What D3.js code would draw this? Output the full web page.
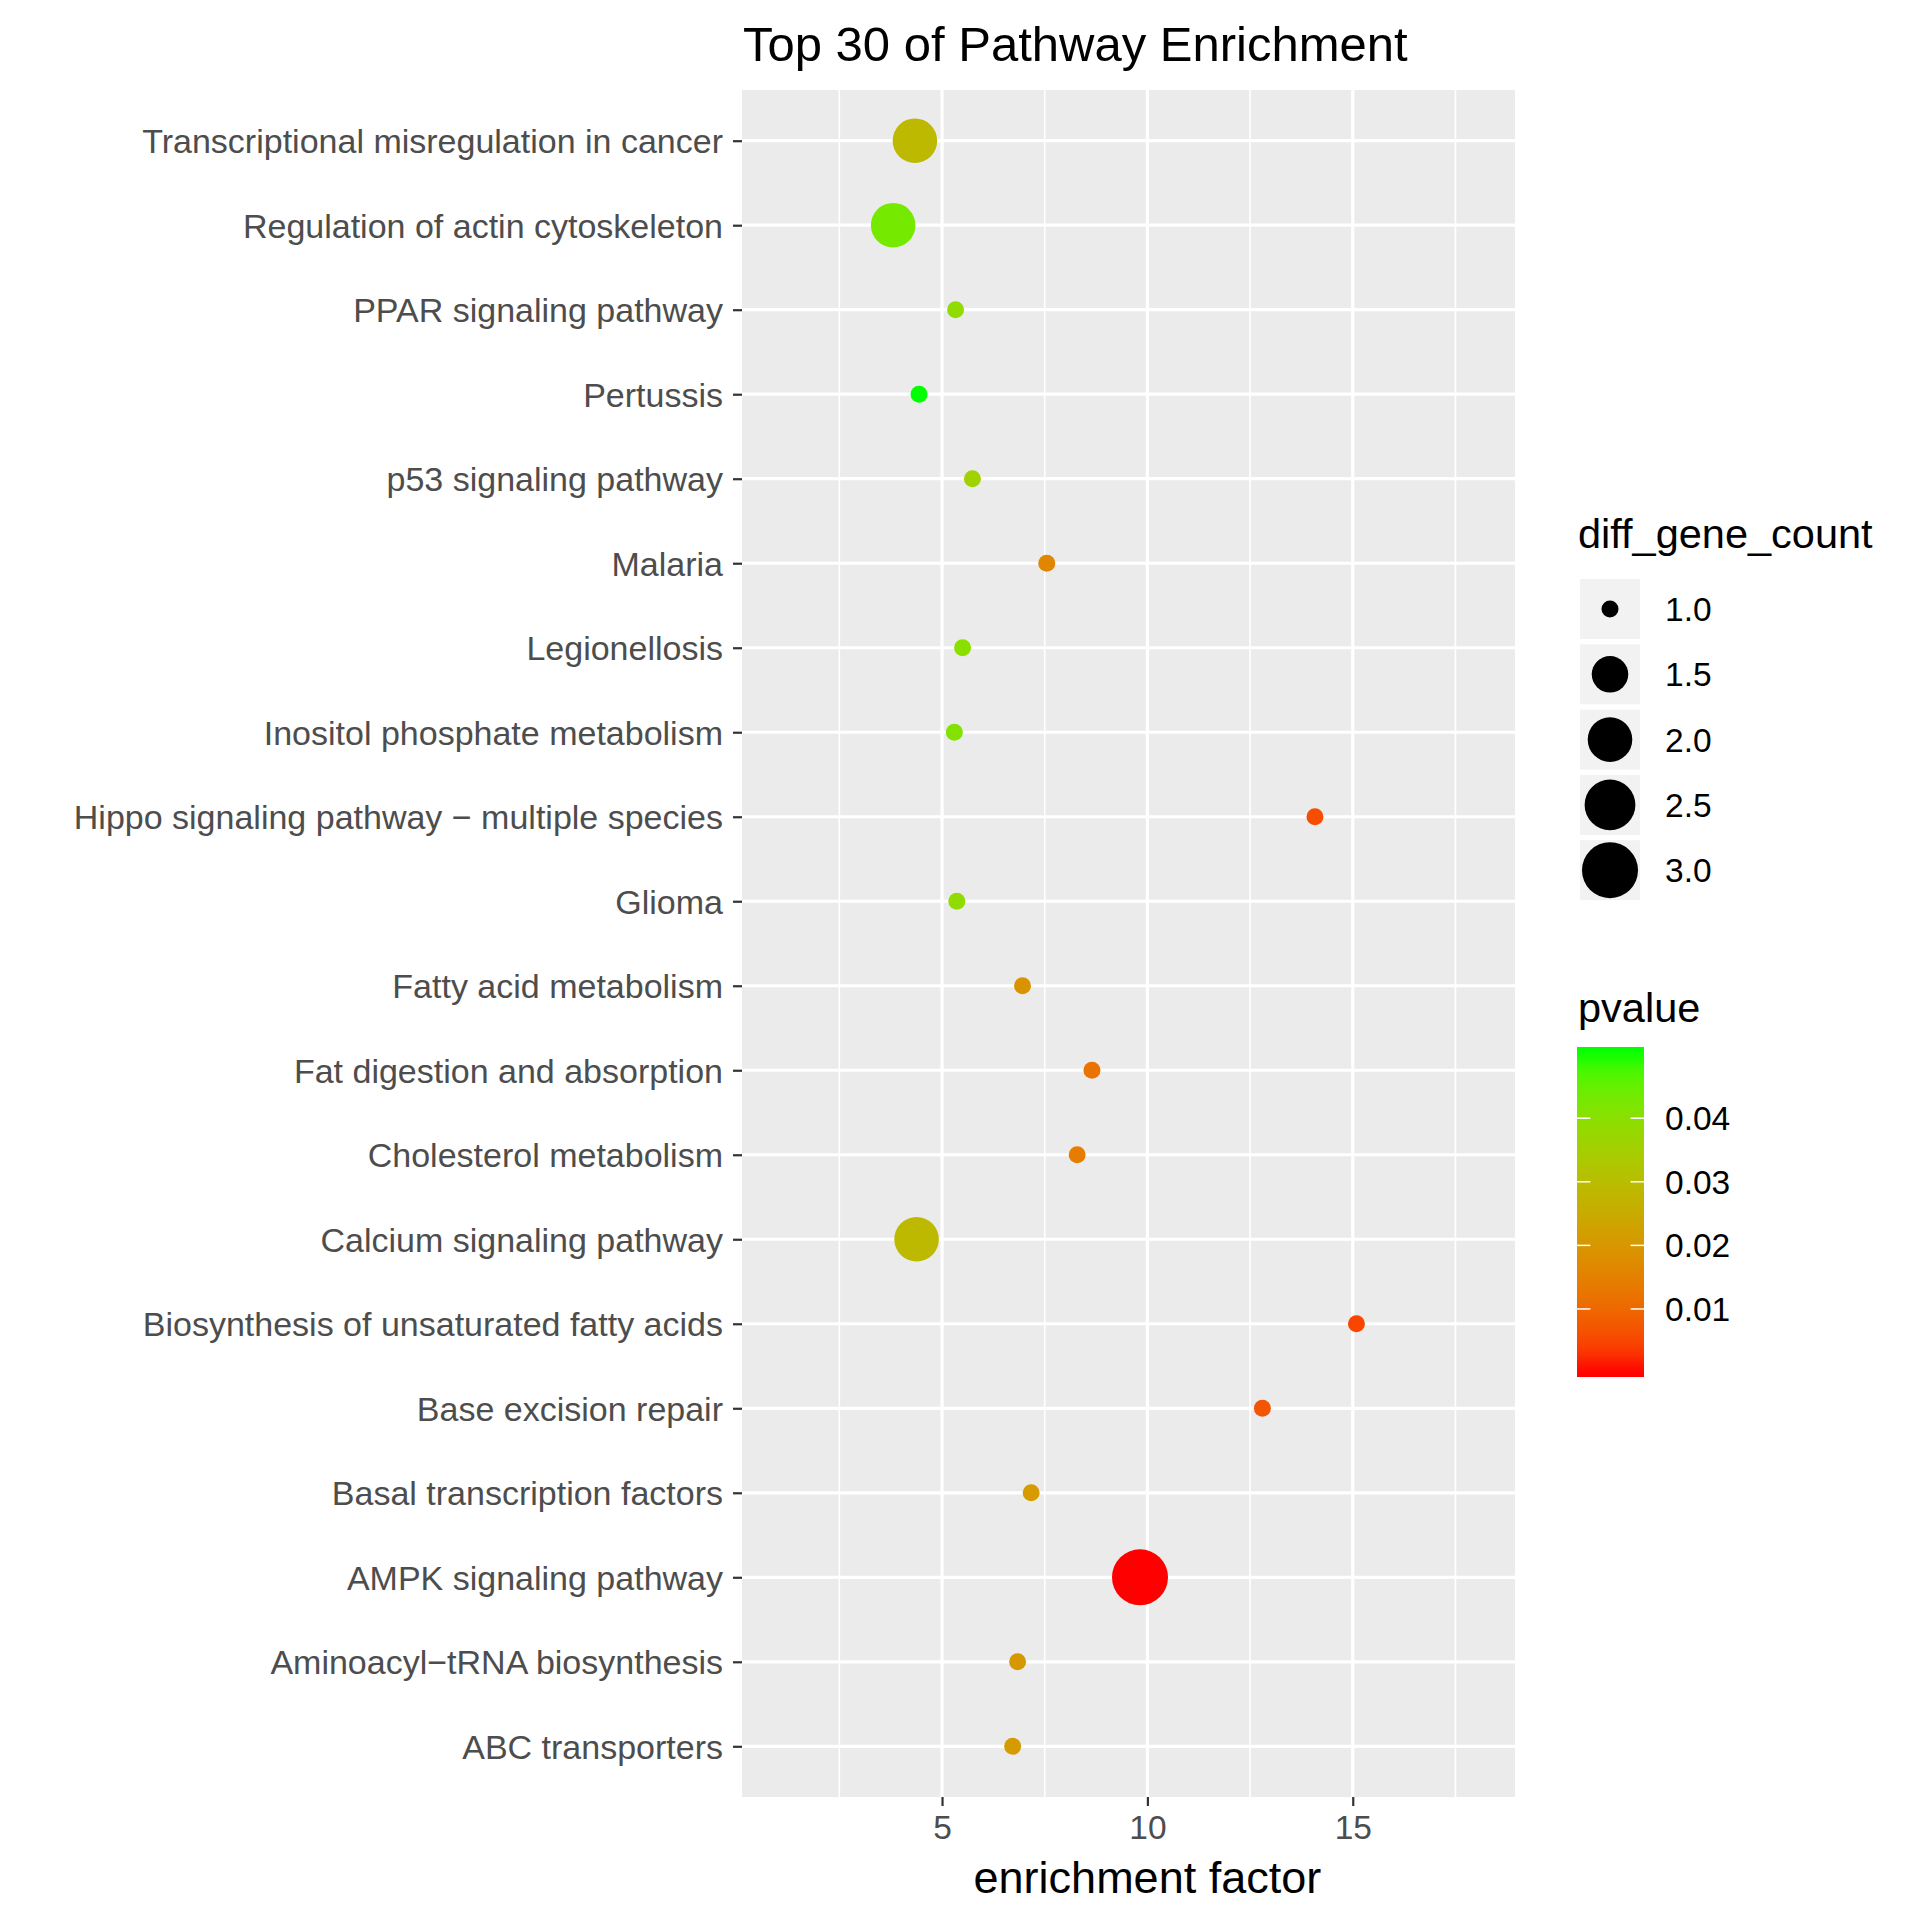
<!DOCTYPE html>
<html>
<head>
<meta charset="utf-8">
<script src="https://cdn.jsdelivr.net/npm/d3@7"></script>
<style>
  html, body { margin: 0; padding: 0; background: #ffffff; }
  svg { display: block; font-family: "Liberation Sans", Arial, Helvetica, sans-serif; }
</style>
</head>
<body>
<svg id="chart" width="1913" height="1913"></svg>
<script>
// ---------------- data ----------------
const pathways = [
  "Transcriptional misregulation in cancer",
  "Regulation of actin cytoskeleton",
  "PPAR signaling pathway",
  "Pertussis",
  "p53 signaling pathway",
  "Malaria",
  "Legionellosis",
  "Inositol phosphate metabolism",
  "Hippo signaling pathway \u2212 multiple species",
  "Glioma",
  "Fatty acid metabolism",
  "Fat digestion and absorption",
  "Cholesterol metabolism",
  "Calcium signaling pathway",
  "Biosynthesis of unsaturated fatty acids",
  "Base excision repair",
  "Basal transcription factors",
  "AMPK signaling pathway",
  "Aminoacyl\u2212tRNA biosynthesis",
  "ABC transporters"
];
const enrichmentFactor = [4.34, 3.81, 5.33, 4.44, 5.74, 7.55, 5.50, 5.30, 14.08, 5.36,
                          6.96, 8.65, 8.29, 4.38, 15.09, 12.80, 7.17, 9.82, 6.84, 6.72];
const diffGeneCount    = [2, 2, 1, 1, 1, 1, 1, 1, 1, 1,
                          1, 1, 1, 2, 1, 1, 1, 3, 1, 1];
const pvalue           = [0.029, 0.043, 0.039, 0.0499, 0.036, 0.016, 0.040, 0.041, 0.006, 0.039,
                          0.019, 0.012, 0.014, 0.029, 0.005, 0.007, 0.021, 0.0006, 0.020, 0.021];
const xTicks = [5, 10, 15];
const xMinorTicks = [2.5, 7.5, 12.5, 17.5];
const sizeLegendValues = [1.0, 1.5, 2.0, 2.5, 3.0];
const pvalueTicks = [0.01, 0.02, 0.03, 0.04];
const titleText = "Top 30 of Pathway Enrichment";
const xTitle = "enrichment factor";
const sizeTitle = "diff_gene_count";
const colorTitle = "pvalue";

// ---------------- layout ----------------
const panel = { left: 742, right: 1515, top: 90, bottom: 1797 };
const svg = d3.select("#chart");

const x = d3.scaleLinear().domain([0.13, 18.95]).range([panel.left, panel.right]);
const y = d3.scalePoint().domain(pathways).range([panel.top, panel.bottom]).padding(0.6);

// size: ggplot-like area scale (range 1..6), diameter = k*size + c
const sizeScale = d3.scaleSqrt().domain([0, 2]).range([1, 6]);
const radius = v => (7.8 * sizeScale(v - 1) + 9.2) / 2;

const pExtent = d3.extent(pvalue);
const color = d3.scaleLinear().domain(pExtent).range(["#ff0000", "#00ff00"])
  .interpolate(d3.interpolateLab);

// ---------------- panel ----------------
svg.append("rect")
  .attr("x", panel.left).attr("y", panel.top)
  .attr("width", panel.right - panel.left).attr("height", panel.bottom - panel.top)
  .attr("fill", "#ebebeb");

// minor vertical grid
svg.append("g").selectAll("line").data(xMinorTicks).join("line")
  .attr("x1", d => x(d)).attr("x2", d => x(d))
  .attr("y1", panel.top).attr("y2", panel.bottom)
  .attr("stroke", "#ffffff").attr("stroke-width", 1.6);

// major vertical grid
svg.append("g").selectAll("line").data(xTicks).join("line")
  .attr("x1", d => x(d)).attr("x2", d => x(d))
  .attr("y1", panel.top).attr("y2", panel.bottom)
  .attr("stroke", "#ffffff").attr("stroke-width", 3.2);

// major horizontal grid
svg.append("g").selectAll("line").data(pathways).join("line")
  .attr("x1", panel.left).attr("x2", panel.right)
  .attr("y1", d => y(d)).attr("y2", d => y(d))
  .attr("stroke", "#ffffff").attr("stroke-width", 3.2);

// points
const rows = pathways.map((p, i) => ({
  name: p, ef: enrichmentFactor[i], count: diffGeneCount[i], p: pvalue[i]
}));
svg.append("g").selectAll("circle").data(rows).join("circle")
  .attr("cx", d => x(d.ef))
  .attr("cy", d => y(d.name))
  .attr("r", d => radius(d.count))
  .attr("fill", d => color(d.p));

// ---------------- axes ----------------
const yAxis = d3.axisLeft(y).tickSize(9).tickPadding(10);
const gy = svg.append("g").attr("transform", `translate(${panel.left},0)`).call(yAxis);
gy.select(".domain").remove();
gy.selectAll(".tick line").attr("stroke", "#333333").attr("stroke-width", 2.2);
gy.selectAll(".tick text")
  .attr("fill", "#4d4d4d")
  .style("font-size", "34px")
  .style("font-family", "'Liberation Sans', Arial, sans-serif")
  .attr("dy", "0.35em");

const xAxis = d3.axisBottom(x).tickValues(xTicks).tickSize(9).tickPadding(9);
const gx = svg.append("g").attr("transform", `translate(0,${panel.bottom})`).call(xAxis);
gx.select(".domain").remove();
gx.selectAll(".tick line").attr("stroke", "#333333").attr("stroke-width", 2.2);
gx.selectAll(".tick text")
  .attr("fill", "#4d4d4d")
  .style("font-size", "33.5px")
  .style("font-family", "'Liberation Sans', Arial, sans-serif")
  .attr("dy", "0.71em");

// titles
svg.append("text")
  .attr("x", 743).attr("y", 61)
  .attr("fill", "#000000")
  .style("font-size", "49px")
  .text(titleText);

svg.append("text")
  .attr("x", x(10)).attr("y", 1893)
  .attr("text-anchor", "middle")
  .attr("fill", "#000000")
  .style("font-size", "45px")
  .text(xTitle);

// ---------------- size legend ----------------
const legX = 1580, keyW = 60, keyStep = 65.3, firstKeyCy = 609;
const sizeLeg = svg.append("g");
sizeLeg.append("text")
  .attr("x", 1578).attr("y", 548)
  .attr("fill", "#000000")
  .style("font-size", "41.5px")
  .text(sizeTitle);
const keys = sizeLeg.selectAll("g.key").data(sizeLegendValues).join("g")
  .attr("class", "key")
  .attr("transform", (d, i) => `translate(0,${firstKeyCy + i * keyStep})`);
keys.append("rect")
  .attr("x", legX).attr("y", -30).attr("width", keyW).attr("height", 60)
  .attr("fill", "#f2f2f2");
keys.append("circle")
  .attr("cx", legX + keyW / 2).attr("cy", 0)
  .attr("r", d => radius(d))
  .attr("fill", "#000000");
keys.append("text")
  .attr("x", 1665).attr("y", 0).attr("dy", "0.36em")
  .attr("fill", "#000000")
  .style("font-size", "33.5px")
  .text(d => d.toFixed(1));

// ---------------- color bar ----------------
const bar = { x: 1577, w: 67, top: 1047, bottom: 1377 };
const binHalf = (bar.bottom - bar.top) / 40;
const cbScale = d3.scaleLinear().domain(pExtent).range([bar.bottom - binHalf, bar.top + binHalf]);

svg.append("text")
  .attr("x", 1578).attr("y", 1022)
  .attr("fill", "#000000")
  .style("font-size", "41.5px")
  .text(colorTitle);

const defs = svg.append("defs");
const grad = defs.append("linearGradient")
  .attr("id", "pgrad").attr("x1", 0).attr("y1", 1).attr("x2", 0).attr("y2", 0);
const nStops = 30;
d3.range(nStops + 1).forEach(i => {
  const t = i / nStops;
  const yy = bar.bottom - t * (bar.bottom - bar.top);
  const v = Math.max(pExtent[0], Math.min(pExtent[1], cbScale.invert(yy)));
  grad.append("stop").attr("offset", t).attr("stop-color", color(v));
});
svg.append("rect")
  .attr("x", bar.x).attr("y", bar.top)
  .attr("width", bar.w).attr("height", bar.bottom - bar.top)
  .attr("fill", "url(#pgrad)");

const cbTicks = svg.append("g").selectAll("g").data(pvalueTicks).join("g")
  .attr("transform", d => `translate(0,${cbScale(d)})`);
cbTicks.append("line")
  .attr("x1", bar.x).attr("x2", bar.x + bar.w / 5)
  .attr("stroke", "#ffffff").attr("stroke-width", 1.5);
cbTicks.append("line")
  .attr("x1", bar.x + bar.w - bar.w / 5).attr("x2", bar.x + bar.w)
  .attr("stroke", "#ffffff").attr("stroke-width", 1.5);
cbTicks.append("text")
  .attr("x", 1665).attr("y", 0).attr("dy", "0.36em")
  .attr("fill", "#000000")
  .style("font-size", "33.5px")
  .text(d => d.toFixed(2));
</script>
</body>
</html>
